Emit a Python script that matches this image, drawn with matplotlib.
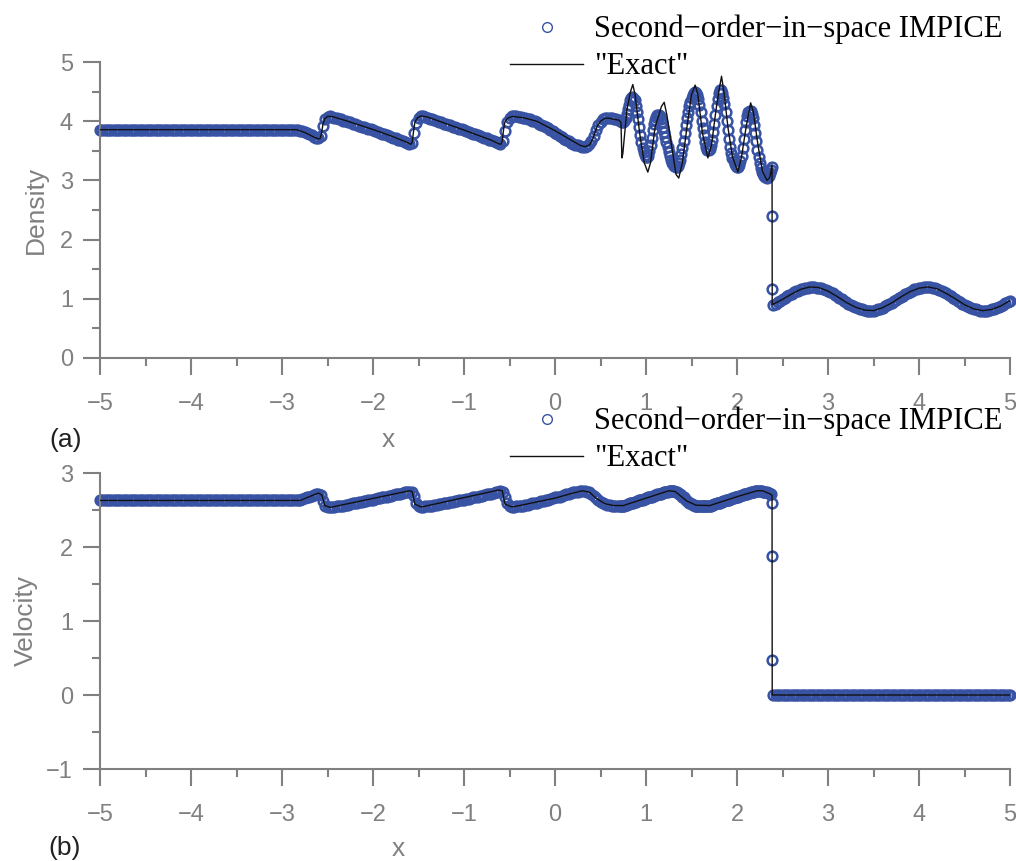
import numpy as np
import matplotlib
matplotlib.use("Agg")
import matplotlib.pyplot as plt
from matplotlib.ticker import MultipleLocator

# ---------------- density: numerical solution ----------------
RHO_L = 3.857
# x = -5.000 ... 0.700, step 0.025 (constant pre-shock state up to x = -2.85)
rho_left = [RHO_L] * 87 + [
    3.85, 3.84, 3.83, 3.81, 3.80, 3.78, 3.76, 3.74, 3.72, 3.71,   # -2.825
    3.75, 3.92, 4.03, 4.07, 4.08, 4.07, 4.06, 4.05, 4.04, 4.03,   # -2.575
    4.01, 4.00, 3.99, 3.98, 3.96, 3.95, 3.94, 3.92, 3.91, 3.90,   # -2.325
    3.88, 3.87, 3.86, 3.85, 3.83, 3.82, 3.80, 3.79, 3.78, 3.77,   # -2.075
    3.75, 3.74, 3.72, 3.71, 3.69, 3.68, 3.66, 3.65, 3.63, 3.62,   # -1.825
    3.64, 3.80, 3.97, 4.05, 4.08, 4.08, 4.07, 4.06, 4.04, 4.03,   # -1.575
    4.02, 4.01, 3.99, 3.98, 3.96, 3.95, 3.94, 3.93, 3.91, 3.90,   # -1.325
    3.88, 3.87, 3.86, 3.85, 3.83, 3.82, 3.80, 3.79, 3.78, 3.77,   # -1.075
    3.75, 3.74, 3.72, 3.71, 3.69, 3.68, 3.66, 3.65, 3.63, 3.62,   # -0.825
    3.66, 3.83, 3.98, 4.05, 4.08, 4.08, 4.08, 4.07, 4.07, 4.06,   # -0.575
    4.05, 4.04, 4.03, 4.01, 4.00, 3.98, 3.96, 3.94, 3.92, 3.90,   # -0.325
    3.88, 3.85, 3.83, 3.80, 3.78, 3.75, 3.73, 3.70, 3.68, 3.66,   # -0.075
    3.64, 3.62, 3.60, 3.59, 3.58, 3.57, 3.57, 3.58, 3.61, 3.66,   #  0.175
    3.75, 3.85, 3.93, 3.99, 4.03, 4.05, 4.06, 4.06, 4.05, 4.04,   #  0.425
    4.03, 4.02,                                                   #  0.675
]
# x = 0.7125 ... 2.375, step 0.0125
rho_mid = [
    4.01, 4.00, 3.98, 3.98, 4.00, 4.05, 4.12, 4.20,   # 0.7125
    4.28, 4.35, 4.39, 4.41, 4.40, 4.35, 4.26, 4.15,   # 0.8125
    4.03, 3.90, 3.77, 3.65, 3.55, 3.48, 3.43, 3.40,   # 0.9125
    3.40, 3.42, 3.49, 3.60, 3.72, 3.85, 3.95, 4.02,   # 1.0125
    4.07, 4.10, 4.10, 4.08, 4.04, 3.98, 3.90, 3.82,   # 1.1125
    3.73, 3.65, 3.56, 3.48, 3.41, 3.35, 3.30, 3.27,   # 1.2125
    3.24, 3.23, 3.23, 3.25, 3.29, 3.35, 3.44, 3.55,   # 1.3125
    3.67, 3.80, 3.93, 4.05, 4.16, 4.25, 4.33, 4.40,   # 1.4125
    4.45, 4.48, 4.49, 4.48, 4.44, 4.38, 4.28, 4.15,   # 1.5125
    4.01, 3.88, 3.76, 3.65, 3.57, 3.52, 3.51, 3.53,   # 1.6125
    3.59, 3.68, 3.81, 3.95, 4.10, 4.25, 4.38, 4.48,   # 1.7125
    4.52, 4.52, 4.48, 4.40, 4.29, 4.15, 4.00, 3.85,   # 1.8125
    3.70, 3.57, 3.46, 3.38, 3.32, 3.27, 3.24, 3.23,   # 1.9125
    3.23, 3.26, 3.32, 3.42, 3.55, 3.70, 3.85, 3.98,   # 2.0125
    4.08, 4.15, 4.18, 4.18, 4.13, 4.05, 3.93, 3.80,   # 2.1125
    3.66, 3.52, 3.40, 3.30, 3.21, 3.14, 3.10, 3.07,   # 2.2125
    3.05, 3.04, 3.05, 3.08, 3.12, 3.18,               # 2.3125
]
# cells inside the shock, x = 2.39
rho_shock = [3.22, 2.40, 1.16]
# x = 2.400 ... 5.000, step 0.025
rho_right = [
    0.89, 0.91, 0.94, 0.96, 0.99, 1.01, 1.04, 1.06,   # 2.40
    1.08, 1.11, 1.13, 1.14, 1.16, 1.17, 1.19, 1.19,   # 2.60
    1.20, 1.20, 1.20, 1.19, 1.19, 1.18, 1.16, 1.15,   # 2.80
    1.13, 1.11, 1.09, 1.07, 1.04, 1.02, 0.99, 0.97,   # 3.00
    0.94, 0.92, 0.90, 0.88, 0.86, 0.84, 0.83, 0.82,   # 3.20
    0.81, 0.80, 0.80, 0.80, 0.80, 0.81, 0.82, 0.83,   # 3.40
    0.85, 0.87, 0.89, 0.91, 0.93, 0.96, 0.98, 1.01,   # 3.60
    1.03, 1.05, 1.08, 1.10, 1.12, 1.14, 1.16, 1.17,   # 3.80
    1.18, 1.19, 1.20, 1.20, 1.20, 1.20, 1.19, 1.18,   # 4.00
    1.17, 1.15, 1.14, 1.12, 1.09, 1.07, 1.05, 1.02,   # 4.20
    1.00, 0.97, 0.95, 0.92, 0.90, 0.88, 0.86, 0.85,   # 4.40
    0.83, 0.82, 0.81, 0.80, 0.80, 0.80, 0.80, 0.81,   # 4.60
    0.82, 0.83, 0.85, 0.86, 0.88, 0.90, 0.93, 0.95,   # 4.80
    0.97,                                             # 5.00
]

# ---------------- velocity: numerical solution ----------------
U_L = 2.629
u_left = [U_L] * 87 + [
    2.63, 2.64, 2.65, 2.66, 2.67, 2.68, 2.69, 2.70, 2.71, 2.72,   # -2.825
    2.70, 2.62, 2.56, 2.54, 2.54, 2.54, 2.54, 2.55, 2.55, 2.56,   # -2.575
    2.56, 2.57, 2.57, 2.58, 2.59, 2.60, 2.60, 2.61, 2.61, 2.62,   # -2.325
    2.62, 2.63, 2.64, 2.64, 2.65, 2.66, 2.66, 2.67, 2.67, 2.68,   # -2.075
    2.69, 2.69, 2.70, 2.71, 2.71, 2.72, 2.73, 2.74, 2.74, 2.75,   # -1.825
    2.74, 2.69, 2.60, 2.56, 2.54, 2.54, 2.55, 2.55, 2.56, 2.56,   # -1.575
    2.57, 2.57, 2.58, 2.58, 2.59, 2.59, 2.60, 2.61, 2.61, 2.62,   # -1.325
    2.62, 2.63, 2.64, 2.64, 2.65, 2.65, 2.66, 2.67, 2.67, 2.68,   # -1.075
    2.69, 2.69, 2.70, 2.71, 2.71, 2.72, 2.73, 2.74, 2.75, 2.76,   # -0.825
    2.75, 2.68, 2.60, 2.56, 2.54, 2.54, 2.55, 2.55, 2.56, 2.56,   # -0.575
    2.57, 2.57, 2.58, 2.59, 2.59, 2.60, 2.61, 2.62, 2.62, 2.63,   # -0.325
    2.64, 2.65, 2.66, 2.67, 2.67, 2.68, 2.69, 2.70, 2.71, 2.72,   # -0.075
    2.73, 2.74, 2.74, 2.75, 2.76, 2.76, 2.76, 2.75, 2.74, 2.72,   #  0.175
    2.69, 2.66, 2.63, 2.61, 2.59, 2.58, 2.57, 2.57, 2.56, 2.56,   #  0.425
    2.56, 2.56,                                                   #  0.675
]
u_mid = [
    2.56, 2.56, 2.56, 2.56, 2.56, 2.57, 2.57, 2.58,   # 0.7125
    2.58, 2.59, 2.59, 2.60, 2.60, 2.61, 2.61, 2.62,   # 0.8125
    2.62, 2.63, 2.63, 2.64, 2.64, 2.65, 2.65, 2.66,   # 0.9125
    2.66, 2.67, 2.67, 2.68, 2.68, 2.69, 2.69, 2.70,   # 1.0125
    2.70, 2.71, 2.71, 2.72, 2.72, 2.73, 2.73, 2.74,   # 1.1125
    2.74, 2.75, 2.75, 2.76, 2.76, 2.76, 2.76, 2.76,   # 1.2125
    2.76, 2.75, 2.74, 2.73, 2.72, 2.71, 2.70, 2.68,   # 1.3125
    2.67, 2.65, 2.64, 2.62, 2.61, 2.60, 2.59, 2.58,   # 1.4125
    2.57, 2.57, 2.56, 2.56, 2.56, 2.56, 2.56, 2.56,   # 1.5125
    2.56, 2.56, 2.56, 2.56, 2.56, 2.56, 2.56, 2.56,   # 1.6125
    2.56, 2.57, 2.57, 2.58, 2.58, 2.59, 2.59, 2.60,   # 1.7125
    2.60, 2.61, 2.61, 2.62, 2.62, 2.63, 2.63, 2.64,   # 1.8125
    2.64, 2.65, 2.65, 2.66, 2.66, 2.67, 2.67, 2.68,   # 1.9125
    2.68, 2.69, 2.69, 2.70, 2.70, 2.71, 2.71, 2.72,   # 2.0125
    2.72, 2.73, 2.73, 2.74, 2.74, 2.75, 2.75, 2.76,   # 2.1125
    2.76, 2.76, 2.76, 2.76, 2.76, 2.76, 2.75, 2.75,   # 2.2125
    2.74, 2.74, 2.73, 2.73, 2.72, 2.72,               # 2.3125
]
u_shock = [2.60, 1.88, 0.47]
u_right = [0.0] * 105

x_left = np.linspace(-5.0, 0.70, len(rho_left))
x_mid = np.linspace(0.7125, 2.375, len(rho_mid))
x_shock = np.full(len(rho_shock), 2.39)
x_right = np.linspace(2.40, 5.00, len(rho_right))

# ---------------- reference ("exact") solution ----------------
rho_exact_pts = [
    (-5.0, 3.857), (-2.84, 3.857), (-2.75, 3.81), (-2.66, 3.74), (-2.60, 3.70),
    (-2.58, 3.71), (-2.565, 3.80), (-2.55, 3.95), (-2.53, 4.04), (-2.50, 4.08),
    (-2.45, 4.08), (-2.30, 4.01), (-2.00, 3.86), (-1.80, 3.75), (-1.62, 3.64),
    (-1.585, 3.61), (-1.57, 3.64), (-1.555, 3.82), (-1.54, 3.98), (-1.51, 4.06),
    (-1.47, 4.09), (-1.40, 4.07), (-1.00, 3.85), (-0.70, 3.68), (-0.62, 3.62),
    (-0.595, 3.61), (-0.58, 3.66), (-0.565, 3.86), (-0.55, 3.99), (-0.52, 4.05),
    (-0.47, 4.08), (-0.35, 4.06), (-0.20, 4.00), (0.00, 3.84), (0.20, 3.66),
    (0.28, 3.59), (0.33, 3.57), (0.38, 3.60), (0.42, 3.72), (0.46, 3.90),
    (0.50, 4.00), (0.55, 4.05), (0.60, 4.05), (0.65, 4.03), (0.70, 4.02),
    (0.725, 3.98), (0.735, 3.38), (0.745, 3.45), (0.79, 4.19), (0.83, 4.50),
    (0.855, 4.62), (0.88, 4.45), (0.93, 3.80), (0.98, 3.30), (1.02, 3.14),
    (1.05, 3.30), (1.10, 3.90), (1.17, 4.25), (1.20, 4.32), (1.23, 4.10),
    (1.28, 3.60), (1.33, 3.10), (1.36, 3.04), (1.40, 3.30), (1.45, 3.90),
    (1.50, 4.45), (1.54, 4.61), (1.57, 4.45), (1.62, 3.80), (1.68, 3.38),
    (1.72, 3.60), (1.77, 4.20), (1.80, 4.50), (1.83, 4.76), (1.86, 4.45),
    (1.90, 3.90), (1.95, 3.40), (2.01, 3.14), (2.05, 3.40), (2.10, 3.90),
    (2.15, 4.31), (2.18, 4.15), (2.23, 3.60), (2.28, 3.15), (2.33, 3.00),
    (2.36, 3.05), (2.385, 3.26), (2.387, 0.90), (2.50, 0.99), (2.60, 1.08),
    (2.70, 1.16), (2.80, 1.20), (2.90, 1.19), (3.00, 1.13), (3.10, 1.04),
    (3.20, 0.94), (3.30, 0.86), (3.40, 0.81), (3.50, 0.80), (3.60, 0.85),
    (3.70, 0.93), (3.80, 1.03), (3.90, 1.12), (4.00, 1.18), (4.10, 1.20),
    (4.20, 1.17), (4.30, 1.09), (4.40, 1.00), (4.50, 0.90), (4.60, 0.83),
    (4.70, 0.80), (4.80, 0.82), (4.90, 0.88), (5.00, 0.97),
]
u_exact_pts = [
    (-5.0, 2.629), (-2.80, 2.629), (-2.60, 2.73), (-2.56, 2.70), (-2.53, 2.56),
    (-2.47, 2.535), (-1.60, 2.76), (-1.57, 2.75), (-1.54, 2.58), (-1.47, 2.54),
    (-0.62, 2.77), (-0.58, 2.76), (-0.55, 2.58), (-0.47, 2.54), (0.00, 2.66),
    (0.20, 2.73), (0.30, 2.76), (0.38, 2.74), (0.45, 2.66), (0.55, 2.585),
    (0.65, 2.56), (0.75, 2.56), (1.00, 2.66), (1.25, 2.76), (1.32, 2.75),
    (1.45, 2.62), (1.55, 2.565), (1.70, 2.56), (2.00, 2.68), (2.22, 2.76),
    (2.28, 2.76), (2.36, 2.72), (2.385, 2.70), (2.387, 0.0), (5.00, 0.0),
]

LABEL_NUM = "Second\u2212order\u2212in\u2212space IMPICE"
LABEL_EXACT = '"Exact"'
BLUE = "#3953a4"
GRAY = "#808080"
TICK_FS = 17
LABEL_FS = 19

plt.rcParams["font.family"] = ["Liberation Sans", "DejaVu Sans"]

W, H = 1016, 861
fig = plt.figure(figsize=(W / 100, H / 100), dpi=100)
ax1 = fig.add_axes([100 / W, 1 - 358 / H, 910 / W, 296 / H])
ax2 = fig.add_axes([100 / W, 1 - 769 / H, 910 / W, 296 / H])


def style(ax, ylo, yhi):
    ax.set_xlim(-5, 5)
    ax.set_ylim(ylo, yhi)
    for s in ("top", "right"):
        ax.spines[s].set_visible(False)
    for s in ("left", "bottom"):
        ax.spines[s].set_color(GRAY)
        ax.spines[s].set_linewidth(1.5)
    ax.xaxis.set_major_locator(MultipleLocator(1))
    ax.xaxis.set_minor_locator(MultipleLocator(0.5))
    ax.yaxis.set_major_locator(MultipleLocator(1))
    ax.yaxis.set_minor_locator(MultipleLocator(0.5))
    ax.tick_params(which="both", direction="out", color=GRAY, width=1.5,
                   labelcolor=GRAY, labelsize=TICK_FS)
    ax.tick_params(which="major", length=12)
    ax.tick_params(which="minor", length=6)
    ax.tick_params(axis="x", which="major", pad=13.5)
    ax.tick_params(axis="y", which="major", pad=7.5)


def draw(ax, xs, ys, ex_pts):
    ex = np.array(ex_pts)
    first = True
    for xv, yv in zip(xs, ys):
        ax.plot(xv, yv, linestyle="none", marker="o", ms=7, mfc="none",
                mec=BLUE, mew=1.8, clip_on=False,
                label=LABEL_NUM if first else None, zorder=2)
        first = False
    ax.plot(ex[:, 0], ex[:, 1], color="#111111", lw=1.0, label=LABEL_EXACT,
            zorder=3)


style(ax1, 0, 5)
style(ax2, -1, 3)
draw(ax1, [x_left, x_mid, x_shock, x_right],
     [rho_left, rho_mid, rho_shock, rho_right], rho_exact_pts)
draw(ax2, [x_left, x_mid, x_shock, x_right],
     [u_left, u_mid, u_shock, u_right], u_exact_pts)

ax1.set_ylabel("Density", color=GRAY, fontsize=LABEL_FS)
ax2.set_ylabel("Velocity", color=GRAY, fontsize=LABEL_FS)
ax1.yaxis.set_label_coords(-0.057, 0.5)
ax2.yaxis.set_label_coords(-0.068, 0.503)

# axis titles and panel tags sit in figure coordinates
fig.text(388 / W, 1 - 440 / H, "x", color=GRAY, fontsize=LABEL_FS,
         ha="center", va="center")
fig.text(398 / W, 1 - 849 / H, "x", color=GRAY, fontsize=LABEL_FS,
         ha="center", va="center")
fig.text(66 / W, 1 - 440 / H, "(a)", color="#222222", fontsize=LABEL_FS,
         ha="center", va="center")
fig.text(65 / W, 1 - 848 / H, "(b)", color="#222222", fontsize=LABEL_FS,
         ha="center", va="center")

for ax, ytop in ((ax1, 15), (ax2, 407)):
    leg = ax.legend(loc="upper left", bbox_to_anchor=(510 / W, 1 - ytop / H),
                    bbox_transform=fig.transFigure, frameon=False,
                    prop={"family": "Liberation Serif", "size": 22},
                    handlelength=2.4, handletextpad=0.36, labelspacing=0.26,
                    borderpad=0, borderaxespad=0, markerscale=1.0)
    leg.legend_handles[0].set_markeredgewidth(1.0)

fig.savefig("out.png", dpi=100)
